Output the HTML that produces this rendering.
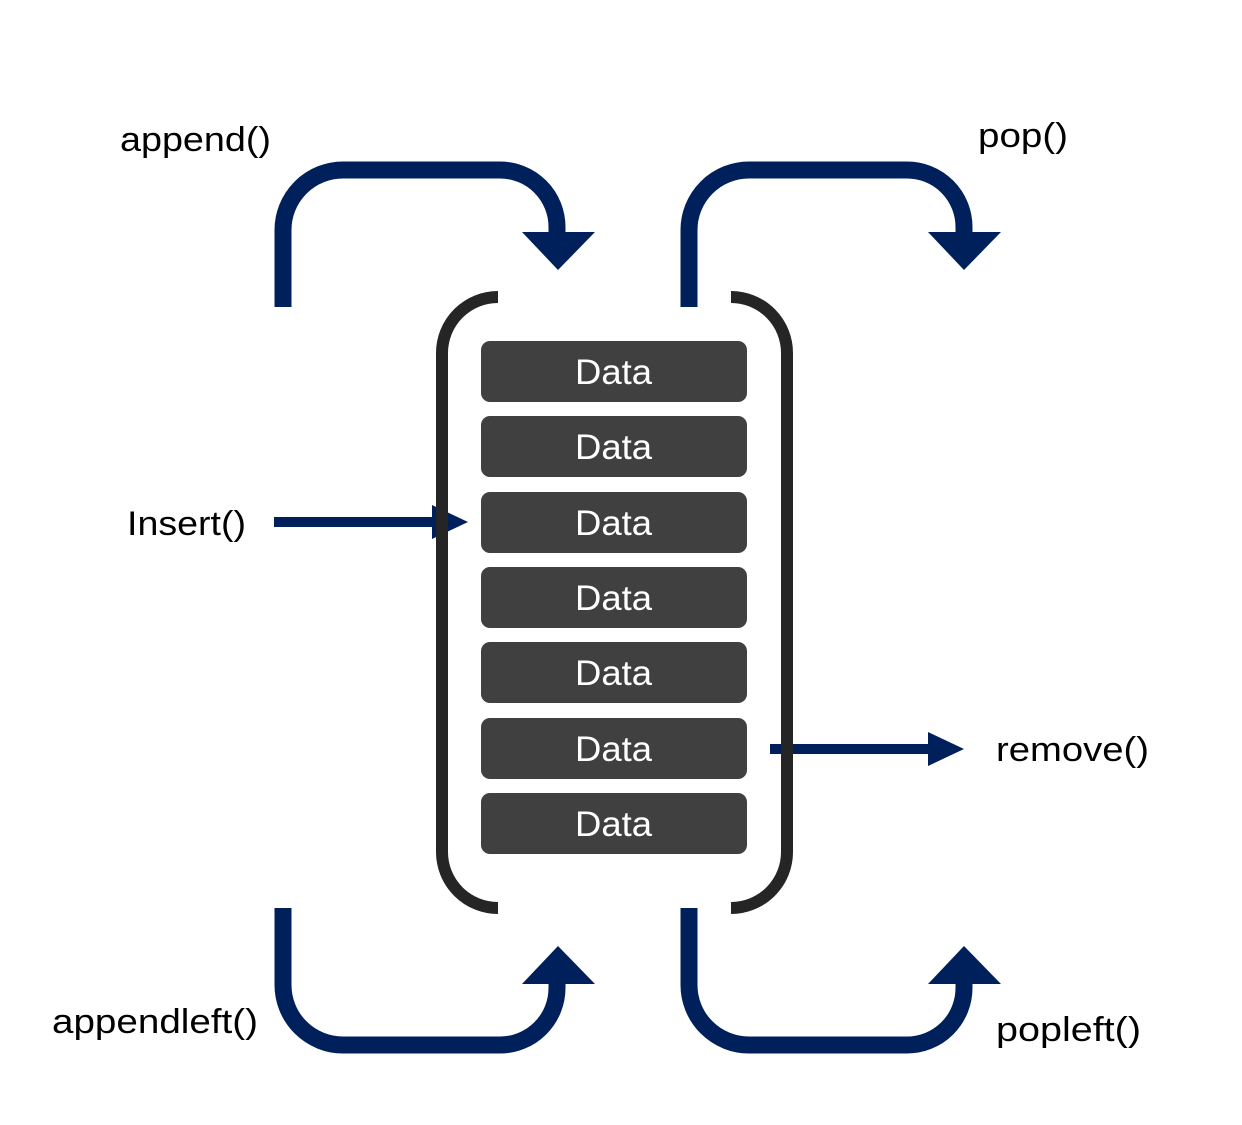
<!DOCTYPE html>
<html><head><style>body{margin:0;background:#fff}svg{display:block}</style></head><body>
<svg width="1242" height="1125" viewBox="0 0 1242 1125" xmlns="http://www.w3.org/2000/svg" font-family="Liberation Sans, sans-serif">
<g fill="none" stroke="#00205B" stroke-width="17">
<path d="M283 307 V230 A60 60 0 0 1 343 170 H500 A57 57 0 0 1 557 227 V234"/>
<path d="M689 307 V230 A60 60 0 0 1 749 170 H907 A57 57 0 0 1 964 227 V234"/>
<path d="M283 908 V985 A60 60 0 0 0 343 1045 H500 A57 57 0 0 0 557 988 V982"/>
<path d="M689 908 V985 A60 60 0 0 0 749 1045 H907 A57 57 0 0 0 964 988 V982"/>
</g>
<g fill="#00205B">
<polygon points="522,232 595,232 558,270"/>
<polygon points="928,232 1001,232 964,270"/>
<polygon points="522,984 595,984 558,946"/>
<polygon points="928,984 1001,984 964,946"/>
<rect x="274" y="517" width="162" height="10"/>
<polygon points="432,505 468,522 432,539"/>
<rect x="770" y="744" width="162" height="10"/>
<polygon points="928,732 964,749 928,766"/>
</g>
<g fill="none" stroke="#252525" stroke-width="12">
<path d="M498 297 A56 56 0 0 0 442 353 V852 A56 56 0 0 0 498 908"/>
<path d="M731 297 A56 56 0 0 1 787 353 V852 A56 56 0 0 1 731 908"/>
</g>
<g fill="#404040">
<rect x="481" y="341" width="266" height="61" rx="9"/>
<rect x="481" y="416" width="266" height="61" rx="9"/>
<rect x="481" y="492" width="266" height="61" rx="9"/>
<rect x="481" y="567" width="266" height="61" rx="9"/>
<rect x="481" y="642" width="266" height="61" rx="9"/>
<rect x="481" y="718" width="266" height="61" rx="9"/>
<rect x="481" y="793" width="266" height="61" rx="9"/>
</g>
<g fill="#fff" font-size="35">
<text x="575" y="384" textLength="77" lengthAdjust="spacingAndGlyphs">Data</text>
<text x="575" y="459" textLength="77" lengthAdjust="spacingAndGlyphs">Data</text>
<text x="575" y="535" textLength="77" lengthAdjust="spacingAndGlyphs">Data</text>
<text x="575" y="610" textLength="77" lengthAdjust="spacingAndGlyphs">Data</text>
<text x="575" y="685" textLength="77" lengthAdjust="spacingAndGlyphs">Data</text>
<text x="575" y="761" textLength="77" lengthAdjust="spacingAndGlyphs">Data</text>
<text x="575" y="836" textLength="77" lengthAdjust="spacingAndGlyphs">Data</text>
</g>
<g fill="#000" font-size="34">
<text x="120" y="151" textLength="151" lengthAdjust="spacingAndGlyphs">append()</text>
<text x="978" y="147" textLength="90" lengthAdjust="spacingAndGlyphs">pop()</text>
<text x="127" y="535" textLength="119" lengthAdjust="spacingAndGlyphs">Insert()</text>
<text x="996" y="761" textLength="153" lengthAdjust="spacingAndGlyphs">remove()</text>
<text x="52" y="1033" textLength="206" lengthAdjust="spacingAndGlyphs">appendleft()</text>
<text x="996" y="1041" textLength="145" lengthAdjust="spacingAndGlyphs">popleft()</text>
</g>
</svg>
</body></html>
